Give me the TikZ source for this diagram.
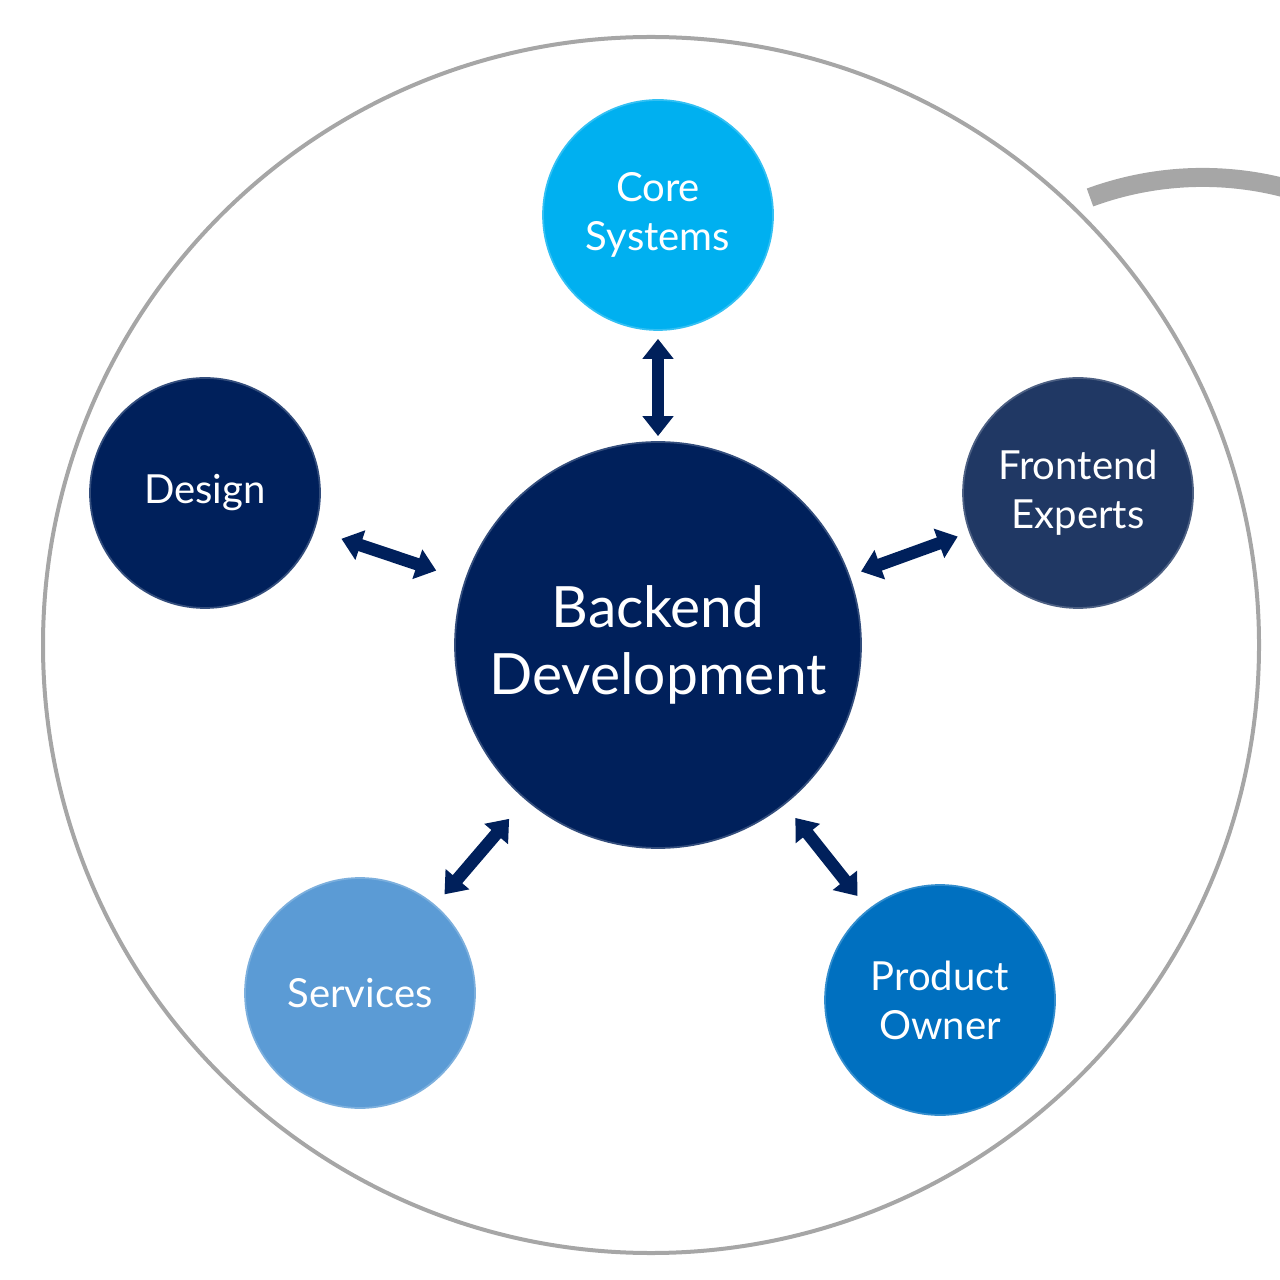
\documentclass[tikz,border=0pt]{standalone}
\usepackage{fontspec}
\setmainfont{Lato}
\usepackage{xcolor}
\definecolor{cNavy}{HTML}{00205B}
\definecolor{cFront}{HTML}{203864}
\definecolor{cCore}{HTML}{00B0F0}
\definecolor{cServ}{HTML}{5B9BD5}
\definecolor{cPO}{HTML}{0070C0}
\definecolor{cRing}{HTML}{A6A6A6}
\usepackage{tikz}
\usetikzlibrary{arrows.meta}

\begin{document}
\begin{tikzpicture}[
    bub/.style   = {circle, draw=#1!80!white, fill=#1, line width=0.5pt,
                    text=white, align=center, inner sep=0pt,
                    minimum size=2.3cm, font=\fontsize{11.4}{14}\selectfont},
    hub/.style   = {bub=cNavy, minimum size=4.06cm,
                    font=\fontsize{16.2}{19.3}\selectfont},
    biarr/.style = {{Triangle[length=2.0mm, width=3.0mm]}-{Triangle[length=2.0mm, width=3.0mm]},
                    line width=1.25mm, color=cNavy}
]
\useasboundingbox (0,0) rectangle (12.8,-12.8);

% --- Outer ring + cut-off arc top right ------------------------------------
\node[circle, draw=cRing, line width=0.4mm, minimum size=12.16cm,
      inner sep=0pt] (ring) at (6.51,-6.45) {};
\begin{scope}
  \clip (0,0) rectangle (12.8,-12.8);
  \draw[cRing, line width=1.9mm] (10.90,-1.975)
    arc[start angle=110.2, end angle=68, radius=3.262];
\end{scope}

% --- Centre ----------------------------------------------------------------
\node[hub, text depth=0.1cm] (back) at (6.58,-6.45) {Backend\\Development};

% --- Satellites ------------------------------------------------------------
\node[bub=cCore]  (core)   at (6.58,-2.15)  {Core\\Systems};
\node[bub=cNavy]  (design) at (2.05,-4.93)  {Design};
\node[bub=cFront] (front)  at (10.78,-4.93) {Frontend\\Experts};
\node[bub=cServ]  (serv)   at (3.60,-9.93)  {Services};
\node[bub=cPO]    (po)     at (9.40,-10.00) {Product\\Owner};

% --- Two-way arrows to the centre ------------------------------------------
\draw[biarr, shorten <=0.08cm, shorten >=0.05cm] (core)   -- (back);
\draw[biarr, shorten <=0.28cm, shorten >=0.30cm] (design) -- (back);
\draw[biarr, shorten <=0.12cm, shorten >=0.12cm] (front)  -- (back);
\draw[biarr, shorten <=0.14cm, shorten >=0.25cm] (serv)   -- (back);
\draw[biarr, shorten <=0.17cm, shorten >=0.17cm] (po)     -- (back);
\end{tikzpicture}
\end{document}
